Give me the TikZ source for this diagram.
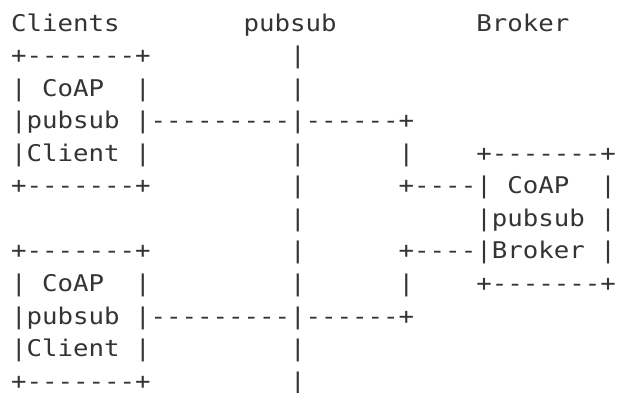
\documentclass[tikz,border=0pt]{standalone}
\usepackage{fontspec}
\newfontfamily\asciifont[FakeStretch=1.12,Ligatures=TeXOff]{DejaVu Sans Mono}
\definecolor{ink}{HTML}{343434}
\newlength\cw
% one run of characters, placed on a fixed grid of columns and rows
\newcommand{\tok}[4]{%
  \node[tok] (#1) at ({11pt+#3*\cw},{-31pt-(#2-1)*32.57pt}) {#4};}
\begin{document}
\settowidth{\cw}{\asciifont\fontsize{23pt}{23pt}\selectfont 0}
\begin{tikzpicture}[
  tok/.style={inner sep=0pt, outer sep=0pt, anchor=base west, text=ink,
    font=\asciifont\fontsize{23pt}{23pt}\selectfont}]
\useasboundingbox (0,0) rectangle (618pt,-392pt);
% headings
\tok{hclients}{1}{0}{Clients}
\tok{hpubsub}{1}{15}{pubsub}
\tok{hbroker}{1}{30}{Broker}
% upper client
\tok{ca1}{2}{0}{+-------+}  \tok{bus2}{2}{18}{|}
\tok{ca2}{3}{0}{|} \tok{ca2t}{3}{2}{CoAP} \tok{ca2r}{3}{8}{|} \tok{bus3}{3}{18}{|}
\tok{ca3}{4}{0}{|pubsub} \tok{ca3r}{4}{8}{|---------|------+}
\tok{ca4}{5}{0}{|Client} \tok{ca4r}{5}{8}{|} \tok{bus5}{5}{18}{|}
\tok{up5}{5}{25}{|} \tok{br1}{5}{30}{+-------+}
\tok{ca5}{6}{0}{+-------+} \tok{bus6}{6}{18}{|}
\tok{up6}{6}{25}{+----|} \tok{br2t}{6}{32}{CoAP} \tok{br2r}{6}{38}{|}
% middle row
\tok{bus7}{7}{18}{|} \tok{br3}{7}{30}{|pubsub} \tok{br3r}{7}{38}{|}
% lower client
\tok{cb1}{8}{0}{+-------+} \tok{bus8}{8}{18}{|}
\tok{lo8}{8}{25}{+----|Broker} \tok{br4r}{8}{38}{|}
\tok{cb2}{9}{0}{|} \tok{cb2t}{9}{2}{CoAP} \tok{cb2r}{9}{8}{|} \tok{bus9}{9}{18}{|}
\tok{lo9}{9}{25}{|} \tok{br5}{9}{30}{+-------+}
\tok{cb3}{10}{0}{|pubsub} \tok{cb3r}{10}{8}{|---------|------+}
\tok{cb4}{11}{0}{|Client} \tok{cb4r}{11}{8}{|} \tok{bus11}{11}{18}{|}
\tok{cb5}{12}{0}{+-------+} \tok{bus12}{12}{18}{|}
\end{tikzpicture}
\end{document}
